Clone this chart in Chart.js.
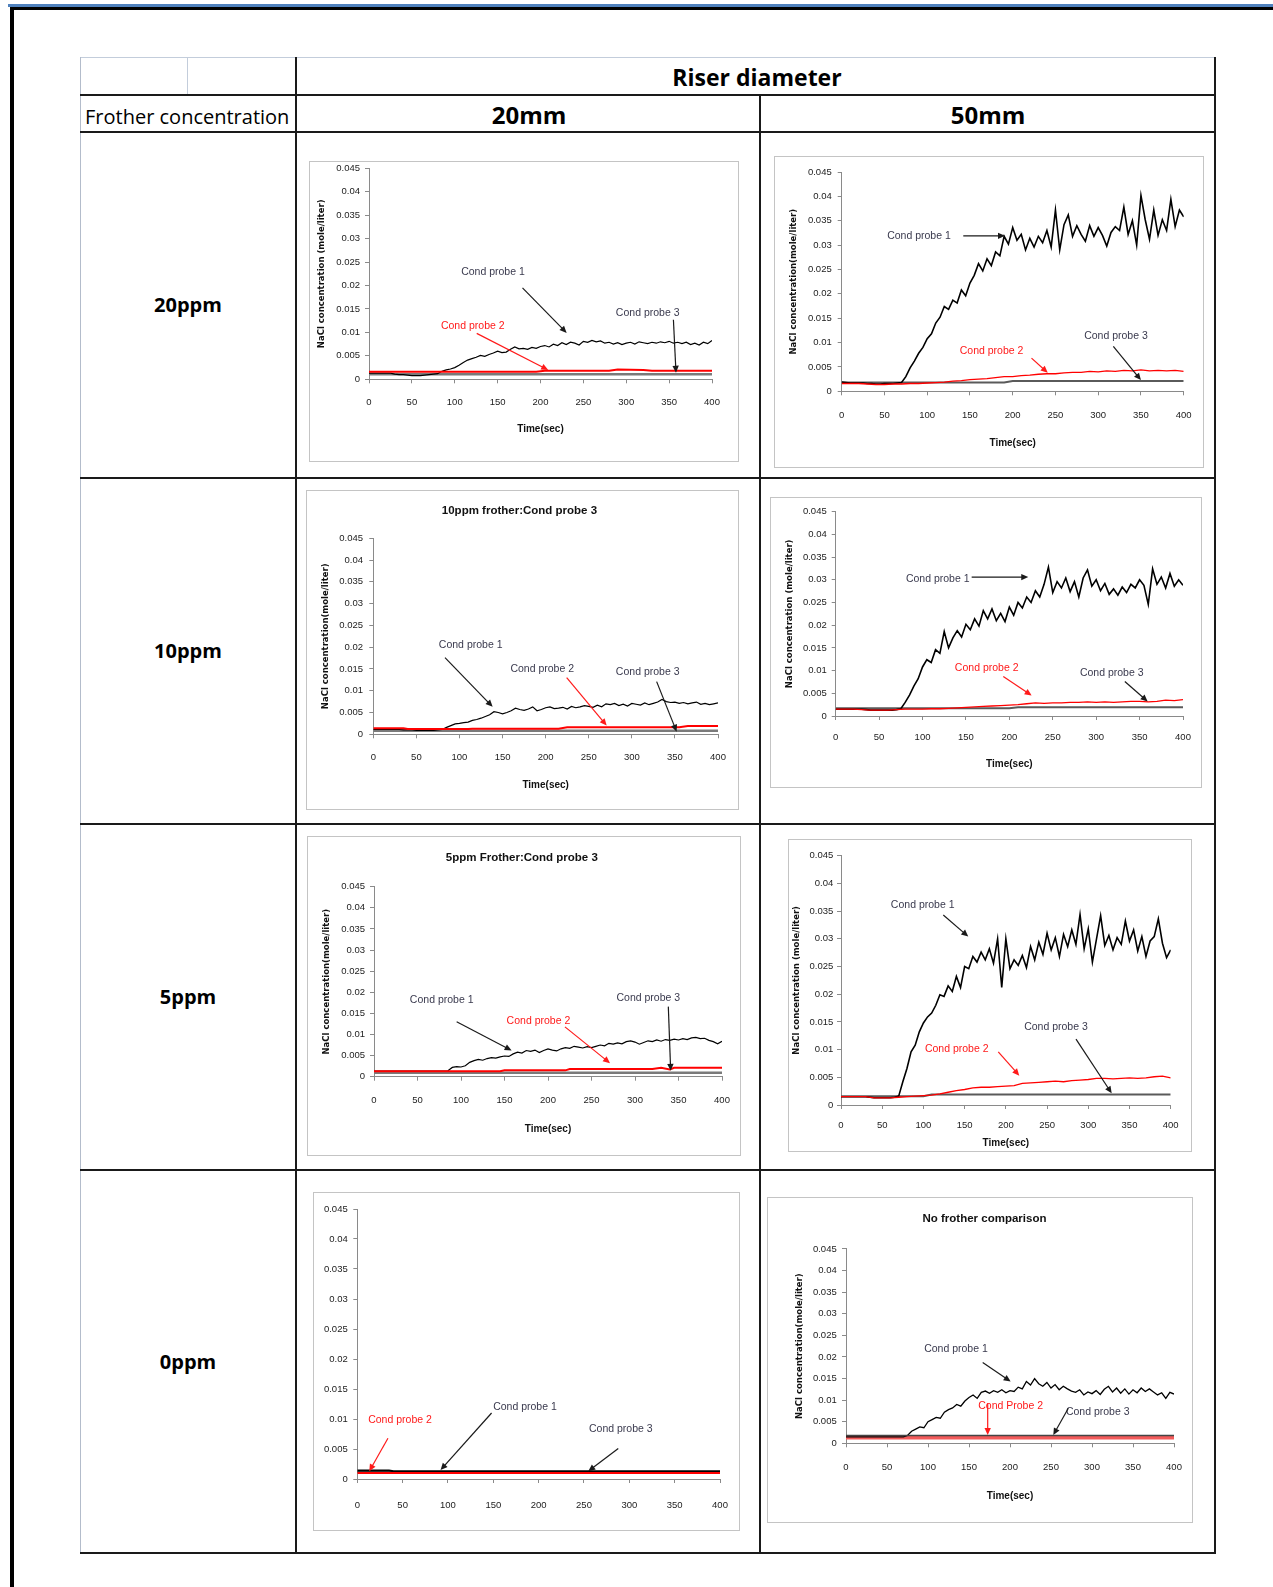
<!DOCTYPE html>
<html>
<head>
<meta charset="utf-8">
<script src="https://cdn.jsdelivr.net/npm/chart.js@4.4.1/dist/chart.umd.min.js"></script>
<style>
  body { margin: 0; background: #fff; width: 1273px; height: 1587px; position: relative; overflow: hidden; font-family: 'Open Sans', sans-serif; color: #000; }
  .ln { position: absolute; }
  .dark { background: #1a1a1a; }
  .light { background: #c3cddb; }
  .txt { position: absolute; transform: translate(-50%, -50%); white-space: nowrap; line-height: 1; }
  .panel { position: absolute; box-sizing: border-box; border: 1px solid #c4c4c4; background: #fff; }
  .panel canvas { display: block; }
</style>
</head>
<body>
<!-- page frame -->
<div class="ln" style="left:8px;top:4px;width:1265px;height:3px;background:#4f81bd"></div>
<div class="ln" style="left:10px;top:7px;width:1263px;height:3px;background:#000"></div>
<div class="ln" style="left:10px;top:7px;width:4px;height:1580px;background:#000"></div>

<!-- table grid -->
<div class="ln light" style="left:80px;top:57px;width:1135px;height:1px"></div>
<div class="ln light" style="left:80px;top:57px;width:1px;height:1497px;background:#b3bccb"></div>
<div class="ln light" style="left:187px;top:57px;width:1px;height:38px"></div>
<div class="ln dark" style="left:295px;top:57px;width:2px;height:1497px"></div>
<div class="ln dark" style="left:759px;top:95px;width:2px;height:1459px"></div>
<div class="ln dark" style="left:1214px;top:57px;width:2px;height:1497px"></div>
<div class="ln dark" style="left:80px;top:94px;width:1136px;height:2px"></div>
<div class="ln dark" style="left:80px;top:131px;width:1136px;height:2px"></div>
<div class="ln dark" style="left:80px;top:477px;width:1136px;height:2px"></div>
<div class="ln dark" style="left:80px;top:823px;width:1136px;height:2px"></div>
<div class="ln dark" style="left:80px;top:1169px;width:1136px;height:2px"></div>
<div class="ln dark" style="left:80px;top:1552px;width:1136px;height:2px"></div>

<!-- table text -->
<div class="txt" style="left:757px;top:77px;font-size:23px;font-weight:700">Riser diameter</div>
<div class="txt" style="left:529px;top:115px;font-size:24px;font-weight:700">20mm</div>
<div class="txt" style="left:988px;top:115px;font-size:24px;font-weight:700">50mm</div>
<div class="txt" style="left:85px;top:117px;font-size:20px;transform:translate(0,-50%)">Frother concentration</div>
<div class="txt" style="left:188px;top:305px;font-size:20px;font-weight:700">20ppm</div>
<div class="txt" style="left:188px;top:651px;font-size:20px;font-weight:700">10ppm</div>
<div class="txt" style="left:188px;top:997px;font-size:20px;font-weight:700">5ppm</div>
<div class="txt" style="left:188px;top:1362px;font-size:20px;font-weight:700">0ppm</div>

<script>
// ---- sampling times (sec) ----
const time5 = [0, 5, 10, 15, 20, 25, 30, 35, 40, 45,
  50, 55, 60, 65, 70, 75, 80, 85, 90, 95,
  100, 105, 110, 115, 120, 125, 130, 135, 140, 145,
  150, 155, 160, 165, 170, 175, 180, 185, 190, 195,
  200, 205, 210, 215, 220, 225, 230, 235, 240, 245,
  250, 255, 260, 265, 270, 275, 280, 285, 290, 295,
  300, 305, 310, 315, 320, 325, 330, 335, 340, 345,
  350, 355, 360, 365, 370, 375, 380, 385, 390, 395,
  400];
const time10 = [0, 10, 20, 30, 40, 50, 60, 70, 80, 90,
  100, 110, 120, 130, 140, 150, 160, 170, 180, 190,
  200, 210, 220, 230, 240, 250, 260, 270, 280, 290,
  300, 310, 320, 330, 340, 350, 360, 370, 380, 390,
  400];

// ---- 20ppm, 20mm riser ----
const ppm20_d20_probe1 = [.0013, .0013, .0013, .0013, .0013, .0013, .0011, .0010, .0010, .0009,
  .0008, .0008, .0008, .0009, .0010, .0011, .0012, .0017, .0020, .0022,
  .0025, .0030, .0036, .0041, .0044, .0047, .0051, .0049, .0053, .0056,
  .0060, .0057, .0058, .0064, .0069, .0065, .0066, .0064, .0068, .0066,
  .0070, .0072, .0069, .0075, .0072, .0078, .0074, .0079, .0077, .0073,
  .0081, .0079, .0083, .0080, .0082, .0077, .0079, .0075, .0078, .0074,
  .0077, .0079, .0075, .0080, .0078, .0076, .0079, .0077, .0080, .0078,
  .0081, .0077, .0079, .0076, .0079, .0074, .0077, .0073, .0079, .0076,
  .0083];
const ppm20_d20_probe2_t = [0, 195, 205, 280, 290, 320, 330, 400];
const ppm20_d20_probe2 = [.0016, .0016, .0018, .0018, .0021, .0020, .0018, .0018];
const ppm20_d20_probe3_t = [0, 400];
const ppm20_d20_probe3 = [.0011, .0011];

// ---- 20ppm, 50mm riser ----
const ppm20_d50_probe1 = [.0019, .0018, .0017, .0017, .0017, .0017, .0016, .0016, .0015, .0015,
  .0016, .0016, .0016, .0017, .0018, .0030, .0048, .0062, .0078, .0090,
  .0108, .0118, .0140, .0152, .0174, .0168, .0187, .0181, .0208, .0196,
  .0222, .0238, .0262, .0247, .0272, .0258, .0286, .0278, .0318, .0302,
  .0336, .0310, .0322, .0290, .0314, .0296, .0318, .0305, .0330, .0296,
  .0372, .0290, .0342, .0362, .0318, .0340, .0322, .0308, .0340, .0318,
  .0336, .0320, .0298, .0326, .0338, .0330, .0378, .0322, .0350, .0300,
  .0402, .0352, .0312, .0372, .0320, .0352, .0330, .0394, .0338, .0372,
  .0358];
const ppm20_d50_probe2 = [.0016, .0016, .0016, .0015, .0014, .0014, .0015, .0015, .0016, .0016,
  .0017, .0018, .0019, .0021, .0022, .0024, .0025, .0026, .0028, .0030,
  .0030, .0032, .0033, .0035, .0036, .0036, .0038, .0039, .0039, .0041,
  .0040, .0042, .0041, .0043, .0042, .0044, .0042, .0043, .0042, .0043,
  .0041];
const ppm20_d50_probe3_t = [0, 190, 200, 400];
const ppm20_d50_probe3 = [.0018, .0018, .0021, .0021];

// ---- 10ppm, 20mm riser ----
const ppm10_d20_probe1 = [.0011, .0011, .0011, .0011, .0011, .0011, .0011, .0010, .0010, .0010,
  .0009, .0009, .0009, .0009, .0009, .0010, .0011, .0016, .0020, .0024,
  .0025, .0027, .0028, .0032, .0034, .0037, .0041, .0045, .0052, .0050,
  .0047, .0050, .0054, .0060, .0057, .0055, .0058, .0063, .0054, .0057,
  .0061, .0063, .0059, .0060, .0062, .0058, .0064, .0061, .0063, .0066,
  .0064, .0062, .0067, .0063, .0070, .0068, .0071, .0066, .0069, .0065,
  .0071, .0069, .0067, .0072, .0068, .0071, .0074, .0080, .0075, .0073,
  .0074, .0071, .0073, .0070, .0072, .0074, .0069, .0071, .0068, .0070,
  .0072];
const ppm10_d20_probe2_t = [0, 35, 40, 110, 115, 215, 225, 355, 365, 400];
const ppm10_d20_probe2 = [.0014, .0014, .0012, .0012, .0013, .0013, .0016, .0016, .0019, .0019];
const ppm10_d20_probe3_t = [0, 400];
const ppm10_d20_probe3 = [.0008, .0008];

// ---- 10ppm, 50mm riser ----
const ppm10_d50_probe1 = [.0015, .0015, .0015, .0015, .0015, .0015, .0015, .0014, .0013, .0013,
  .0013, .0013, .0013, .0013, .0014, .0016, .0030, .0046, .0066, .0082,
  .0108, .0124, .0118, .0146, .0138, .0186, .0150, .0172, .0188, .0174,
  .0202, .0190, .0214, .0198, .0232, .0214, .0236, .0210, .0226, .0208,
  .0240, .0222, .0250, .0238, .0262, .0250, .0276, .0262, .0290, .0328,
  .0272, .0296, .0282, .0304, .0274, .0296, .0262, .0304, .0322, .0286,
  .0300, .0276, .0292, .0268, .0280, .0266, .0284, .0272, .0290, .0282,
  .0300, .0288, .0246, .0324, .0290, .0306, .0282, .0314, .0286, .0300,
  .0288];
const ppm10_d50_probe2 = [.0015, .0015, .0015, .0014, .0013, .0013, .0013, .0014, .0015, .0015,
  .0015, .0016, .0016, .0017, .0018, .0019, .0020, .0021, .0022, .0023,
  .0024, .0025, .0027, .0029, .0028, .0029, .0029, .0030, .0030, .0031,
  .0030, .0031, .0030, .0031, .0032, .0032, .0031, .0032, .0035, .0034,
  .0036];
const ppm10_d50_probe3_t = [0, 200, 210, 400];
const ppm10_d50_probe3 = [.0017, .0017, .0019, .0019];

// ---- 5ppm, 20mm riser ----
const ppm5_d20_probe1 = [.0013, .0013, .0013, .0013, .0013, .0013, .0013, .0013, .0013, .0013,
  .0013, .0013, .0013, .0013, .0013, .0013, .0013, .0014, .0022, .0024,
  .0023, .0026, .0034, .0038, .0041, .0039, .0043, .0045, .0044, .0047,
  .0049, .0048, .0054, .0058, .0056, .0062, .0060, .0063, .0057, .0062,
  .0066, .0063, .0061, .0066, .0069, .0067, .0072, .0070, .0068, .0071,
  .0069, .0072, .0075, .0073, .0079, .0077, .0080, .0078, .0083, .0085,
  .0082, .0077, .0081, .0085, .0083, .0087, .0084, .0088, .0086, .0089,
  .0087, .0090, .0088, .0092, .0093, .0090, .0091, .0086, .0083, .0078,
  .0084];
const ppm5_d20_probe2_t = [0, 145, 150, 220, 225, 320, 330, 340, 345, 400];
const ppm5_d20_probe2 = [.0013, .0013, .0015, .0015, .0018, .0018, .0021, .0017, .0021, .0021];
const ppm5_d20_probe3_t = [0, 400];
const ppm5_d20_probe3 = [.00095, .00095];

// ---- 5ppm, 50mm riser ----
const ppm5_d50_probe1 = [.0015, .0015, .0015, .0015, .0015, .0015, .0015, .0014, .0013, .0013,
  .0013, .0013, .0013, .0014, .0016, .0042, .0066, .0096, .0108, .0132,
  .0148, .0159, .0166, .0180, .0199, .0196, .0215, .0205, .0232, .0212,
  .0250, .0246, .0268, .0258, .0276, .0262, .0282, .0256, .0300, .0212,
  .0300, .0246, .0262, .0252, .0270, .0248, .0286, .0262, .0294, .0272,
  .0310, .0280, .0302, .0268, .0308, .0286, .0316, .0290, .0344, .0282,
  .0318, .0258, .0300, .0342, .0288, .0306, .0280, .0302, .0290, .0332,
  .0296, .0316, .0278, .0304, .0268, .0296, .0304, .0336, .0292, .0266,
  .0280];
const ppm5_d50_probe2 = [.0015, .0015, .0015, .0015, .0013, .0013, .0013, .0014, .0015, .0016,
  .0017, .0018, .0020, .0023, .0026, .0028, .0031, .0032, .0032, .0033,
  .0034, .0035, .0039, .0040, .0041, .0042, .0043, .0042, .0044, .0045,
  .0046, .0048, .0048, .0047, .0048, .0049, .0048, .0049, .0051, .0052,
  .0049];
const ppm5_d50_probe3_t = [0, 100, 110, 400];
const ppm5_d50_probe3 = [.0016, .0016, .0019, .0019];

// ---- 0ppm, 20mm riser ----
const ppm0_d20_probe1_t = [0, 35, 40, 400];
const ppm0_d20_probe1 = [.0014, .0014, .0013, .0013];
const ppm0_d20_probe2_t = [0, 400];
const ppm0_d20_probe2 = [.0010, .0010];
const ppm0_d20_probe3_t = [0, 400];
const ppm0_d20_probe3 = [.0012, .0012];

// ---- 0ppm, 50mm riser ----
const ppm0_d50_probe1 = [.0015, .0015, .0015, .0015, .0015, .0015, .0015, .0015, .0015, .0015,
  .0015, .0015, .0015, .0015, .0015, .0018, .0028, .0033, .0038, .0036,
  .0050, .0055, .0060, .0058, .0072, .0078, .0082, .0090, .0086, .0098,
  .0106, .0112, .0104, .0118, .0121, .0116, .0122, .0118, .0124, .0117,
  .0122, .0120, .0130, .0126, .0143, .0135, .0150, .0138, .0132, .0141,
  .0128, .0136, .0124, .0132, .0126, .0121, .0118, .0124, .0112, .0119,
  .0115, .0122, .0113, .0125, .0132, .0119, .0128, .0116, .0126, .0114,
  .0124, .0117, .0128, .0120, .0126, .0119, .0112, .0117, .0104, .0118,
  .0114];
const ppm0_d50_probe2_t = [0, 400];
const ppm0_d50_probe2 = [.0013, .0013];
const ppm0_d50_probe3_t = [0, 400];
const ppm0_d50_probe3 = [.0018, .0018];

const xTicks = { min: 0, max: 400, step: 50 };
const yTicks = { min: 0, max: 0.045, step: 0.005 };

// ---- drawing ----
const NARROW = "'Liberation Sans Narrow','Liberation Sans',Arial,sans-serif";
const RED = '#ff1a1a';
const INK = '#3a3a4e';
const Y_TITLE_SIZE = 8.5, X_TITLE_SIZE = 10, TITLE_SIZE = 11.5, TICK_SIZE = 9.5, TICK_LEN = 4;

function series(times, values) {
  return times.map((t, i) => ({ x: t, y: values[i] }));
}

function drawNotes(chart, notes) {
  const { ctx, scales: { x, y } } = chart;
  ctx.save();
  ctx.font = '10.5px ' + NARROW;
  ctx.textAlign = 'center';
  ctx.textBaseline = 'middle';
  notes.forEach(n => {
    ctx.fillStyle = n.color;
    ctx.fillText(n.text, x.getPixelForValue(n.at[0]), y.getPixelForValue(n.at[1]));
    const x1 = x.getPixelForValue(n.from[0]), y1 = y.getPixelForValue(n.from[1]);
    const x2 = x.getPixelForValue(n.to[0]), y2 = y.getPixelForValue(n.to[1]);
    const a = Math.atan2(y2 - y1, x2 - x1), hl = 7, hw = 3.2;
    ctx.strokeStyle = n.arrow;
    ctx.fillStyle = n.arrow;
    ctx.lineWidth = 1.2;
    ctx.beginPath();
    ctx.moveTo(x1, y1);
    ctx.lineTo(x2 - hl * 0.7 * Math.cos(a), y2 - hl * 0.7 * Math.sin(a));
    ctx.stroke();
    ctx.beginPath();
    ctx.moveTo(x2, y2);
    ctx.lineTo(x2 - hl * Math.cos(a) + hw * Math.sin(a), y2 - hl * Math.sin(a) - hw * Math.cos(a));
    ctx.lineTo(x2 - hl * Math.cos(a) - hw * Math.sin(a), y2 - hl * Math.sin(a) + hw * Math.cos(a));
    ctx.closePath();
    ctx.fill();
  });
  ctx.restore();
}

function buildChart(spec) {
  const [bl, bt, br, bb] = spec.box;
  const wrap = document.createElement('div');
  wrap.className = 'panel';
  Object.assign(wrap.style, { left: bl + 'px', top: bt + 'px', width: (br - bl) + 'px', height: (bb - bt) + 'px' });
  const cv = document.createElement('canvas');
  const W = br - bl - 2, H = bb - bt - 2;
  cv.width = W; cv.height = H;
  wrap.appendChild(cv);
  document.body.appendChild(wrap);

  // page coords -> layout paddings and fixed axis sizes
  const cx = bl + 1, cy = bt + 1;
  const [pl, pt, pr, pb] = spec.plot;
  const yLH = Y_TITLE_SIZE * 1.2, tLH = TITLE_SIZE * 1.2, xLH = X_TITLE_SIZE * 1.2;
  const padL = spec.yTitle ? spec.yTitleX - cx - yLH / 2 : 0;
  const yW = pl - cx - padL;
  const padT = spec.title ? spec.titleY - cy - tLH / 2 : pt - cy;
  const titleGap = spec.title ? pt - (spec.titleY + tLH / 2) : 0;
  const padR = cx + W - pr;
  const padB = spec.xTitle ? cy + H - spec.xTitleY - xLH / 2 : 0;
  const xH = cy + H - padB - pb;

  const axisGrid = { drawOnChartArea: false, drawTicks: true, tickLength: TICK_LEN, color: '#8a8a8a' };
  const tickFont = { family: NARROW, size: TICK_SIZE };

  new Chart(cv, {
    type: 'line',
    data: {
      datasets: spec.lines.map(l => ({
        data: series(l.t, l.v),
        borderColor: l.color,
        borderWidth: l.width,
        pointRadius: 0,
        tension: 0,
        fill: false
      }))
    },
    options: {
      responsive: false,
      animation: false,
      devicePixelRatio: 1,
      layout: { padding: { left: padL, top: padT, right: padR, bottom: padB } },
      plugins: {
        legend: { display: false },
        tooltip: { enabled: false },
        title: {
          display: !!spec.title,
          text: spec.title || '',
          color: '#111',
          font: { family: NARROW, size: TITLE_SIZE, weight: 'bold' },
          padding: { top: 0, bottom: titleGap }
        }
      },
      scales: {
        x: {
          type: 'linear',
          min: xTicks.min, max: xTicks.max,
          ticks: { stepSize: xTicks.step, padding: spec.xTickY - pb - TICK_LEN - TICK_SIZE * 0.6, font: tickFont, color: '#222', maxRotation: 0, autoSkip: false },
          grid: axisGrid,
          border: { color: '#8a8a8a' },
          title: { display: !!spec.xTitle, text: spec.xTitle || '', color: '#111', padding: 0, font: { family: NARROW, size: X_TITLE_SIZE, weight: 'bold' } },
          afterFit(s) { s.height = xH; s.paddingLeft = 0; s.paddingRight = 0; }
        },
        y: {
          type: 'linear',
          min: yTicks.min, max: yTicks.max,
          ticks: { stepSize: yTicks.step, padding: pl - spec.yTickRight - TICK_LEN, font: tickFont, color: '#222', callback: v => String(Math.round(v * 1000) / 1000) },
          grid: axisGrid,
          border: { color: '#8a8a8a' },
          title: { display: !!spec.yTitle, text: spec.yTitle || '', color: '#111', padding: 0, font: { family: "'DejaVu Sans',sans-serif", size: Y_TITLE_SIZE, weight: 'bold' } },
          afterFit(s) { s.width = yW; s.paddingTop = 0; s.paddingBottom = 0; }
        }
      }
    },
    plugins: [{ id: 'notes', afterDatasetsDraw(chart) { drawNotes(chart, spec.notes); } }]
  });
}

const Y1 = 'NaCl concentration (mole/liter)';
const Y2 = 'NaCl concentration(mole/liter)';
const T = 'Time(sec)';
const dark = (text, at, from, to) => ({ text, at, from, to, color: INK, arrow: '#1a1a1a' });
const red = (text, at, from, to) => ({ text, at, from, to, color: RED, arrow: RED });

const specs = [
  { // 20ppm, 20mm
    box: [309, 161, 739, 462], plot: [369, 168.3, 712, 379.3],
    yTitle: Y1, yTitleX: 322, xTitle: T, xTitleY: 429, xTickY: 402, yTickRight: 360,
    lines: [
      { t: ppm20_d20_probe2_t, v: ppm20_d20_probe2, color: '#ff0000', width: 2 },
      { t: time5, v: ppm20_d20_probe1, color: '#000', width: 1.2 },
      { t: ppm20_d20_probe3_t, v: ppm20_d20_probe3, color: '#7a7a7a', width: 2.5 }
    ],
    notes: [
      dark('Cond probe 1', [144.6, 0.0229], [179, 0.0195], [230.5, 0.0099]),
      red('Cond probe 2', [121, 0.0114], [125.6, 0.0098], [209, 0.0020]),
      dark('Cond probe 3', [325, 0.0141], [355, 0.0127], [358, 0.0014])
    ]
  },
  { // 20ppm, 50mm
    box: [774, 156, 1204, 468], plot: [841.7, 172, 1183.7, 391.3],
    yTitle: Y2, yTitleX: 794, xTitle: T, xTitleY: 443, xTickY: 415, yTickRight: 831.7,
    lines: [
      { t: time10, v: ppm20_d50_probe2, color: '#ff0000', width: 1.3 },
      { t: time5, v: ppm20_d50_probe1, color: '#000', width: 1.6 },
      { t: ppm20_d50_probe3_t, v: ppm20_d50_probe3, color: '#5a5a5a', width: 2 }
    ],
    notes: [
      dark('Cond probe 1', [90.4, 0.0319], [142.2, 0.0319], [191, 0.0319]),
      red('Cond probe 2', [175.3, 0.0083], [222, 0.0068], [241, 0.0038]),
      dark('Cond probe 3', [320.8, 0.0114], [317.7, 0.0092], [350, 0.0023])
    ]
  },
  { // 10ppm, 20mm
    box: [306, 490, 739, 810], plot: [373.3, 538.3, 718, 734.3],
    title: '10ppm frother:Cond probe 3', titleY: 511,
    yTitle: Y2, yTitleX: 326, xTitle: T, xTitleY: 785, xTickY: 757.7, yTickRight: 363,
    lines: [
      { t: ppm10_d20_probe2_t, v: ppm10_d20_probe2, color: '#ff0000', width: 2 },
      { t: time5, v: ppm10_d20_probe1, color: '#000', width: 1.2 },
      { t: ppm10_d20_probe3_t, v: ppm10_d20_probe3, color: '#7a7a7a', width: 2.5 }
    ],
    notes: [
      dark('Cond probe 1', [113, 0.0205], [83.2, 0.0176], [138.5, 0.0063]),
      { text: 'Cond probe 2', at: [196, 0.0150], from: [224.4, 0.0130], to: [270.8, 0.0020], color: INK, arrow: RED },
      dark('Cond probe 3', [318.4, 0.0142], [328.8, 0.0121], [352, 0.0006])
    ]
  },
  { // 10ppm, 50mm
    box: [770, 497, 1202, 788], plot: [835.7, 511.7, 1183, 716],
    yTitle: Y1, yTitleX: 790, xTitle: T, xTitleY: 764, xTickY: 737.7, yTickRight: 826.7,
    lines: [
      { t: time10, v: ppm10_d50_probe2, color: '#ff0000', width: 1.3 },
      { t: time5, v: ppm10_d50_probe1, color: '#000', width: 1.6 },
      { t: ppm10_d50_probe3_t, v: ppm10_d50_probe3, color: '#5a5a5a', width: 2 }
    ],
    notes: [
      dark('Cond probe 1', [117.5, 0.0301], [156.6, 0.0306], [221.8, 0.0306]),
      red('Cond probe 2', [173.9, 0.0105], [193, 0.0087], [225.7, 0.0045]),
      dark('Cond probe 3', [317.9, 0.0094], [333, 0.0076], [359.3, 0.0032])
    ]
  },
  { // 5ppm, 20mm
    box: [307, 836, 741, 1156], plot: [374, 886.7, 722, 1076.7],
    title: '5ppm Frother:Cond probe 3', titleY: 858.3,
    yTitle: Y2, yTitleX: 326.7, xTitle: T, xTitleY: 1129.3, xTickY: 1100.7, yTickRight: 365,
    lines: [
      { t: ppm5_d20_probe2_t, v: ppm5_d20_probe2, color: '#ff0000', width: 2 },
      { t: time5, v: ppm5_d20_probe1, color: '#000', width: 1.2 },
      { t: ppm5_d20_probe3_t, v: ppm5_d20_probe3, color: '#7a7a7a', width: 2.5 }
    ],
    notes: [
      dark('Cond probe 1', [77.8, 0.0182], [95, 0.0130], [158.2, 0.0062]),
      red('Cond probe 2', [189, 0.0132], [219.5, 0.0118], [271.3, 0.0032]),
      dark('Cond probe 3', [315.3, 0.0187], [338.3, 0.0166], [341, 0.0014])
    ]
  },
  { // 5ppm, 50mm
    box: [788, 839, 1192, 1152], plot: [841, 855.7, 1170.7, 1105],
    yTitle: Y1, yTitleX: 796.7, xTitle: T, xTitleY: 1143.3, xTickY: 1125.7, yTickRight: 833.3,
    lines: [
      { t: time10, v: ppm5_d50_probe2, color: '#ff0000', width: 1.3 },
      { t: time5, v: ppm5_d50_probe1, color: '#000', width: 1.6 },
      { t: ppm5_d50_probe3_t, v: ppm5_d50_probe3, color: '#5a5a5a', width: 2 }
    ],
    notes: [
      dark('Cond probe 1', [99.1, 0.0360], [124.1, 0.0343], [154.4, 0.0304]),
      red('Cond probe 2', [140.4, 0.0100], [190.8, 0.0096], [216.3, 0.0053]),
      dark('Cond probe 3', [260.8, 0.0141], [285.1, 0.0119], [328.4, 0.0021])
    ]
  },
  { // 0ppm, 20mm
    box: [313, 1192, 740, 1531], plot: [357.3, 1209, 720, 1479],
    xTickY: 1505, yTickRight: 347.7,
    lines: [
      { t: ppm0_d20_probe2_t, v: ppm0_d20_probe2, color: '#ff0000', width: 2 },
      { t: ppm0_d20_probe1_t, v: ppm0_d20_probe1, color: '#000', width: 2 },
      { t: ppm0_d20_probe3_t, v: ppm0_d20_probe3, color: '#222', width: 1.2 }
    ],
    notes: [
      red('Cond probe 2', [47.1, 0.0098], [33.8, 0.0068], [13.2, 0.0013]),
      dark('Cond probe 1', [184.9, 0.0119], [148.1, 0.0110], [91.8, 0.0015]),
      dark('Cond probe 3', [290.6, 0.0083], [287.8, 0.0051], [254.7, 0.0013])
    ]
  },
  { // 0ppm, 50mm
    box: [767, 1197, 1193, 1523], plot: [846, 1249, 1174, 1443.3],
    title: 'No frother comparison', titleY: 1219.3,
    yTitle: Y2, yTitleX: 800, xTitle: T, xTitleY: 1496, xTickY: 1467.7, yTickRight: 836.7,
    lines: [
      { t: ppm0_d50_probe3_t, v: ppm0_d50_probe3, color: '#444', width: 1.5 },
      { t: time5, v: ppm0_d50_probe1, color: '#000', width: 1.3 },
      { t: ppm0_d50_probe2_t, v: ppm0_d50_probe2, color: '#f25a5a', width: 3.5 }
    ],
    notes: [
      dark('Cond probe 1', [134.1, 0.0218], [166.7, 0.0187], [200.8, 0.0143]),
      red('Cond Probe 2', [200.8, 0.0085], [172.8, 0.0093], [172.8, 0.0019]),
      dark('Cond probe 3', [307, 0.0072], [271.1, 0.0081], [252.8, 0.0019])
    ]
  }
];

specs.forEach(buildChart);
</script>
</body>
</html>
